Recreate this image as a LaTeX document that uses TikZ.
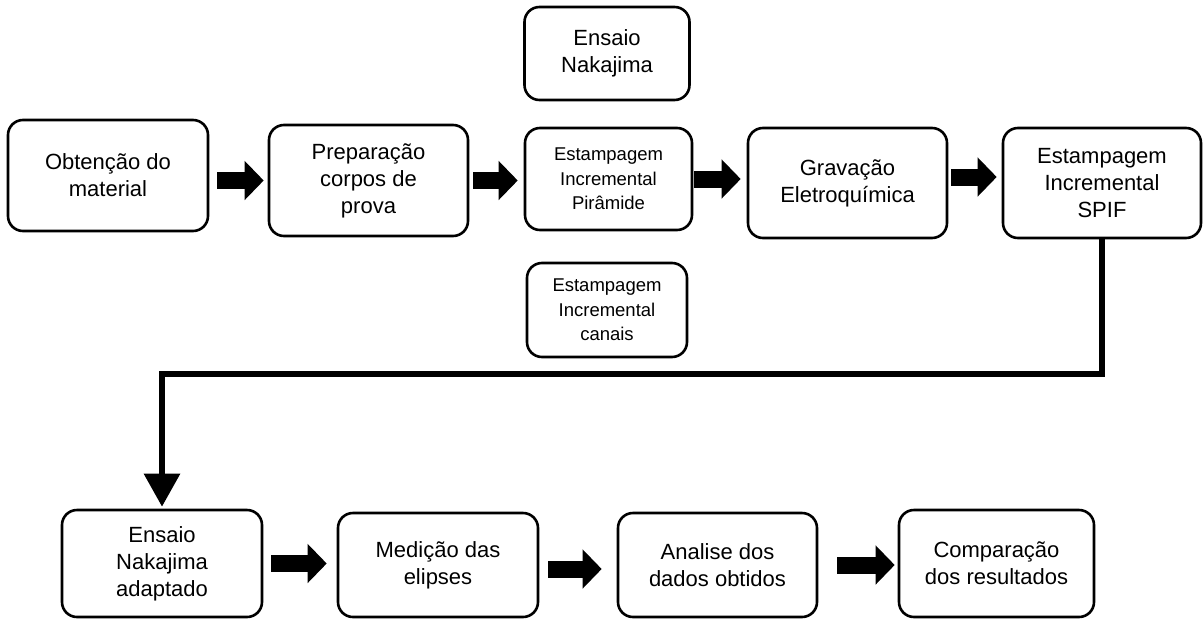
\documentclass[tikz,border=0pt]{standalone}
\usepackage{fontspec}
\setmainfont{Liberation Sans}
\usetikzlibrary{arrows.meta}
\begin{document}
\begin{tikzpicture}[x=1pt,y=-1pt,
  box/.style={draw, line width=2.6pt, rounded corners=15pt, fill=white, align=center, inner sep=0pt,
    font=\fontsize{22}{27}\selectfont},
  smallbox/.style={box, font=\fontsize{18.5}{24.5}\selectfont},
  blk/.style={draw, line width=17pt, -{Triangle[length=19pt,width=38pt]}},
  conn/.style={draw, line width=6pt, line join=miter, -{Triangle[length=33pt,width=35pt]}}]
\useasboundingbox (0,0) rectangle (1203,619);
% top row
\node[box, minimum width=200pt, minimum height=111pt] (obt) at (108,175.5) {Obtenção do\\material};
\node[box, minimum width=199pt, minimum height=111pt] (prep) at (368.5,180.5) {Preparação\\corpos de\\prova};
\node[smallbox, minimum width=167pt, minimum height=102pt] (pir) at (608.5,179) {Estampagem\\Incremental\\Pirâmide};
\node[box, minimum width=165pt, minimum height=93pt] (nak) at (607,53.5) {Ensaio\\Nakajima};
\node[smallbox, minimum width=160pt, minimum height=94pt] (can) at (607,310) {Estampagem\\Incremental\\canais};
\node[box, minimum width=199pt, minimum height=110pt] (grav) at (847.5,183) {Gravação\\Eletroquímica};
\node[box, minimum width=198pt, minimum height=110pt] (spif) at (1102,183) {Estampagem\\Incremental\\SPIF};
% bottom row
\node[box, minimum width=200pt, minimum height=107pt] (ena) at (162,563.5) {Ensaio\\Nakajima\\adaptado};
\node[box, minimum width=200pt, minimum height=104pt] (med) at (438,565) {Medição das\\elipses};
\node[box, minimum width=199pt, minimum height=104pt] (ana) at (717.5,565) {Analise dos\\dados obtidos};
\node[box, minimum width=195pt, minimum height=107pt] (comp) at (996.5,563.5) {Comparação\\dos resultados};
% block arrows
\draw[blk] ([xshift=8pt]obt.east |- prep.west) -- ([xshift=-4pt]prep.west);
\draw[blk] ([xshift=4pt]prep.east) -- ([xshift=-6pt]pir.west |- prep.east);
\draw[blk] ([xshift=1pt]pir.east) -- ([xshift=-6pt]grav.west |- pir.east);
\draw[blk] ([xshift=3pt,yshift=6pt]grav.east) -- ([xshift=-5pt,yshift=6pt]spif.west);
\draw[blk] ([xshift=8pt]ena.east) -- ([xshift=-10pt]med.west |- ena.east);
\draw[blk] ([xshift=9pt,yshift=-4pt]med.east) -- ([xshift=-15pt,yshift=-4pt]ana.west);
\draw[blk] ([xshift=19pt]ana.east) -- ([xshift=-3pt]comp.west |- ana.east);
% connector
\coordinate (bend) at (162,374);
\draw[conn, shorten >=2pt] (spif.south) |- (bend) -- (ena.north);
\end{tikzpicture}
\end{document}
